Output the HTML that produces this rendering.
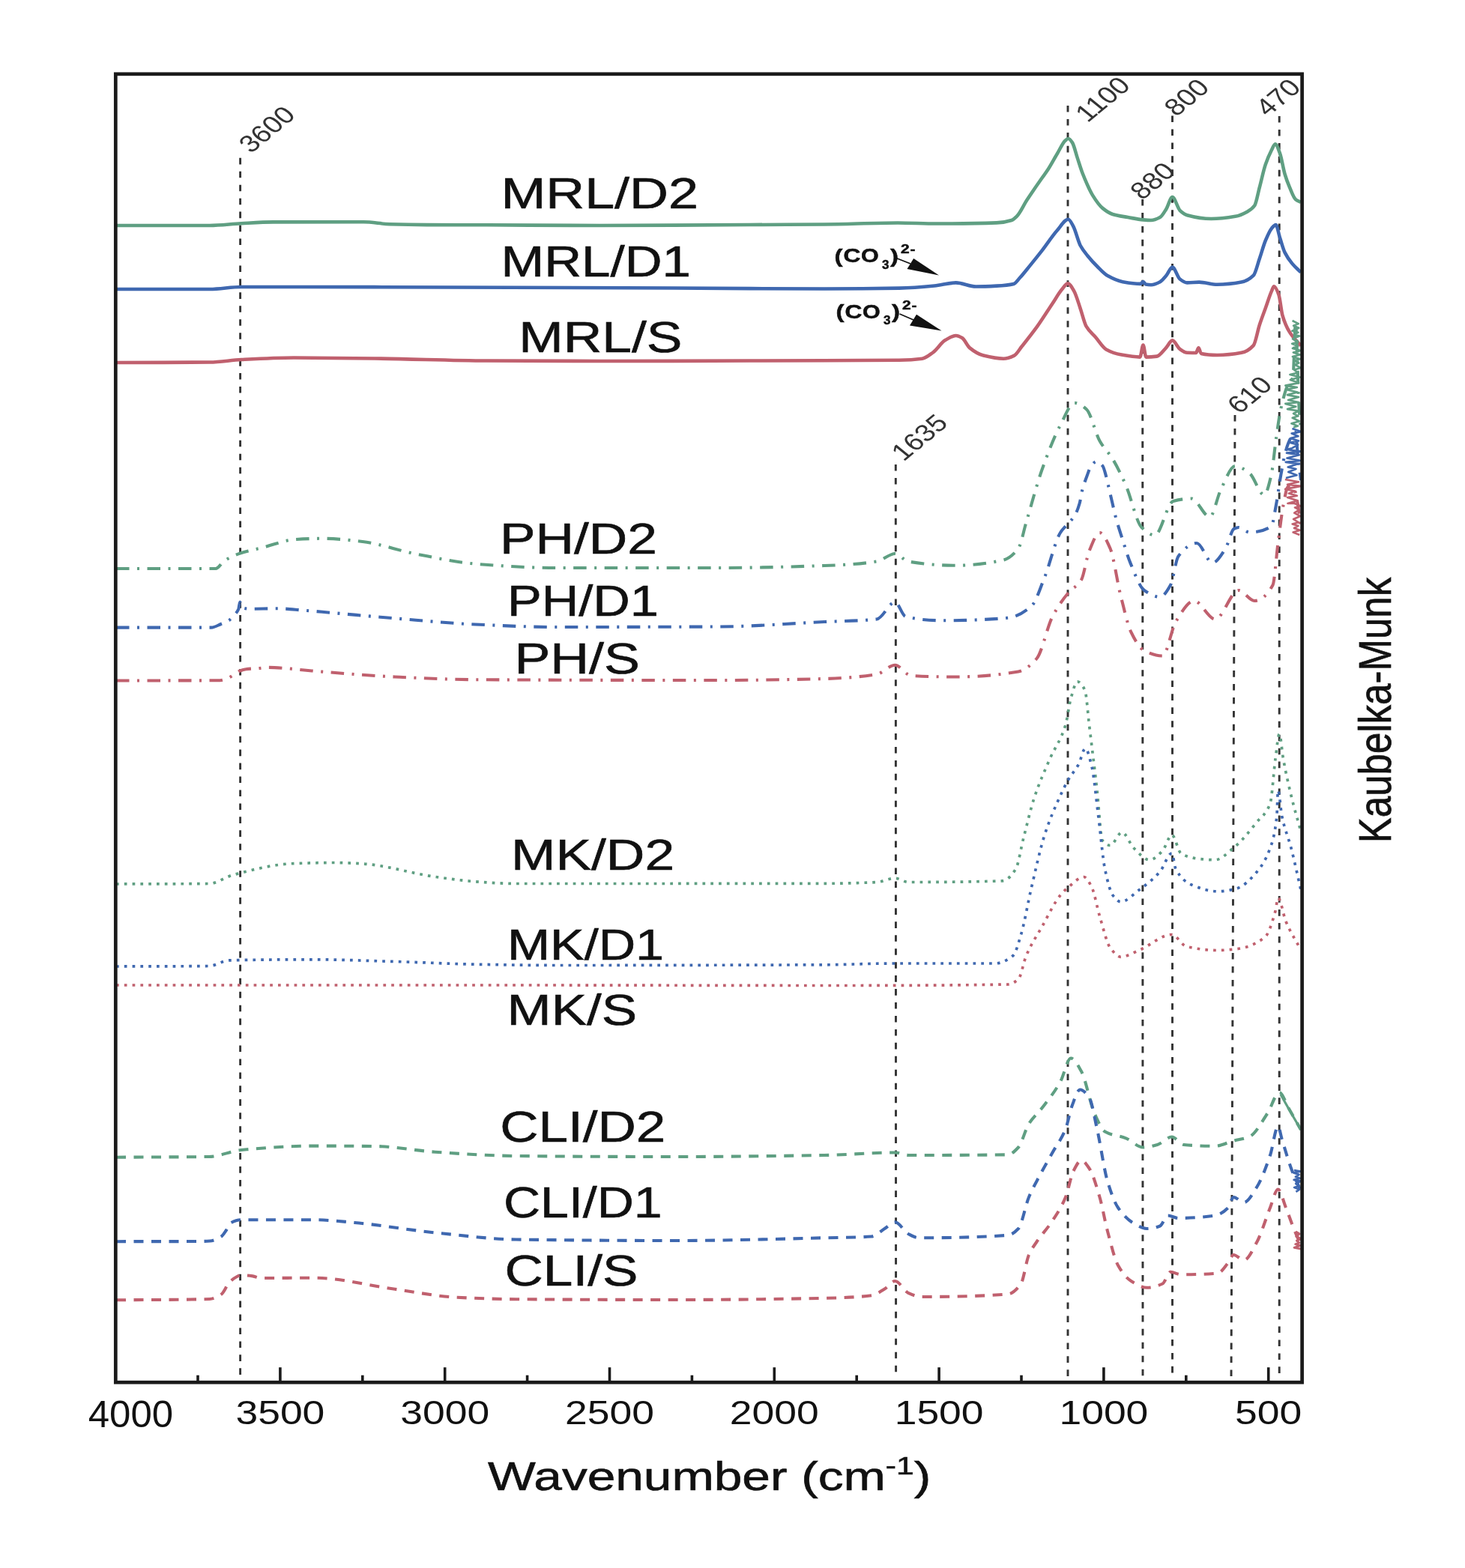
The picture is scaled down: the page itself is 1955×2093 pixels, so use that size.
<!DOCTYPE html><html><head><meta charset="utf-8"><title>Kubelka-Munk spectra</title>
<style>html,body{margin:0;padding:0;background:#fff;}svg{display:block;}text{font-family:"Liberation Sans",Arial,sans-serif;fill:#111;}</style></head><body>
<svg width="1955" height="2093" viewBox="0 0 1955 2093">
<rect x="0" y="0" width="1955" height="2093" fill="#fff"/>
<line x1="320.6" y1="210.8" x2="320.6" y2="1840" stroke="#333" stroke-width="2.9" stroke-dasharray="8.6 9.35"/>
<line x1="1195.3" y1="620" x2="1195.6" y2="1840" stroke="#333" stroke-width="2.9" stroke-dasharray="8.6 9.35"/>
<line x1="1425" y1="141" x2="1425" y2="1840" stroke="#333" stroke-width="2.9" stroke-dasharray="8.6 9.35"/>
<line x1="1524.7" y1="266" x2="1525" y2="1840" stroke="#333" stroke-width="2.9" stroke-dasharray="8.6 9.35"/>
<line x1="1564.5" y1="154.5" x2="1564.5" y2="1840" stroke="#333" stroke-width="2.9" stroke-dasharray="8.6 9.35"/>
<line x1="1648" y1="554" x2="1643" y2="1840" stroke="#333" stroke-width="2.9" stroke-dasharray="8.6 9.35"/>
<line x1="1707.2" y1="155" x2="1707.2" y2="1840" stroke="#333" stroke-width="2.9" stroke-dasharray="8.6 9.35"/>
<path d="M155.0,301.0 C196.7,301.0 238.3,301.0 280.0,301.0 C294.0,301.0 308.0,299.0 322.0,298.3 C336.3,297.5 350.7,296.4 365.0,296.4 C405.0,296.3 445.0,296.3 485.0,296.3 C496.7,296.3 508.3,298.8 520.0,299.2 C536.7,299.7 553.3,300.0 570.0,300.1 C596.7,300.2 623.3,300.2 650.0,300.3 C700.0,300.5 750.0,301.0 800.0,301.0 C866.7,301.0 933.3,300.3 1000.0,300.0 C1033.3,299.8 1066.7,299.8 1100.0,299.5 C1132.7,299.2 1165.3,297.5 1198.0,297.5 C1215.3,297.5 1232.7,298.5 1250.0,298.5 C1276.7,298.5 1303.3,298.2 1330.0,297.4 C1336.7,297.2 1343.3,296.1 1350.0,294.0 C1352.3,293.3 1354.7,291.0 1357.0,288.7 C1361.5,284.3 1365.9,274.0 1370.4,267.1 C1377.1,256.7 1383.9,247.1 1390.6,237.5 C1392.8,234.3 1395.1,231.5 1397.3,228.1 C1401.8,221.3 1406.3,212.7 1410.8,205.2 C1414.4,199.3 1417.9,190.8 1421.5,187.7 C1422.9,186.5 1424.2,185.0 1425.6,185.0 C1427.4,185.0 1429.2,187.7 1431.0,190.4 C1433.2,193.7 1435.5,203.9 1437.7,210.6 C1439.9,217.3 1442.2,224.9 1444.4,230.8 C1446.7,236.8 1448.9,242.0 1451.2,246.9 C1453.4,251.8 1455.7,256.8 1457.9,260.4 C1462.4,267.7 1466.9,274.2 1471.4,277.9 C1475.9,281.6 1480.3,284.6 1484.8,286.0 C1491.5,288.1 1498.3,288.8 1505.0,290.0 C1511.7,291.2 1518.5,292.9 1525.2,293.4 C1528.8,293.7 1532.4,294.0 1536.0,294.0 C1540.0,294.0 1544.1,292.2 1548.1,290.0 C1550.8,288.5 1553.5,283.5 1556.2,279.2 C1559.0,274.8 1561.7,263.0 1564.5,263.0 C1567.8,263.0 1571.2,277.6 1574.5,280.8 C1577.7,283.9 1581.0,286.3 1584.2,287.2 C1594.9,290.1 1605.7,292.0 1616.4,292.0 C1627.1,292.0 1637.9,290.6 1648.6,288.8 C1654.0,287.9 1659.3,285.4 1664.7,282.4 C1667.9,280.6 1671.1,278.9 1674.3,274.3 C1676.5,271.2 1678.6,258.4 1680.8,250.2 C1683.5,240.2 1686.1,227.4 1688.8,219.6 C1691.5,211.7 1694.2,205.6 1696.9,200.3 C1698.5,197.2 1700.1,192.2 1701.7,192.2 C1703.8,192.2 1706.0,199.3 1708.1,205.1 C1710.3,211.0 1712.4,225.3 1714.6,232.5 C1716.7,239.6 1718.9,245.2 1721.0,250.2 C1723.7,256.4 1726.3,264.1 1729.0,266.3 C1731.3,268.2 1733.7,268.8 1736.0,270.0" fill="none" stroke="#5f9f82" stroke-width="4.6" stroke-linejoin="round"/>
<path d="M155.0,386.0 C196.7,386.0 238.3,386.0 280.0,386.0 C294.0,386.0 308.0,383.0 322.0,383.0 C348.0,383.0 374.0,383.0 400.0,383.0 C466.7,383.0 533.3,383.3 600.0,383.5 C700.0,383.8 800.0,384.1 900.0,384.5 C966.7,384.8 1033.3,385.5 1100.0,385.5 C1133.3,385.5 1166.7,385.2 1200.0,384.6 C1215.7,384.3 1231.3,383.0 1247.0,381.5 C1256.6,380.6 1266.1,377.4 1275.7,377.4 C1284.6,377.4 1293.4,382.5 1302.3,382.5 C1311.5,382.5 1320.8,382.1 1330.0,381.6 C1337.6,381.2 1345.3,380.7 1352.9,378.9 C1355.6,378.2 1358.3,373.7 1361.0,370.8 C1365.5,365.9 1369.9,360.1 1374.4,354.6 C1379.8,348.0 1385.2,341.3 1390.6,334.4 C1397.3,325.7 1404.1,315.1 1410.8,307.5 C1415.7,301.9 1420.7,292.7 1425.6,292.7 C1427.8,292.7 1430.1,298.0 1432.3,302.1 C1435.4,307.8 1438.6,321.8 1441.7,327.7 C1444.9,333.6 1448.0,337.2 1451.2,341.2 C1455.7,346.8 1460.1,351.6 1464.6,356.0 C1469.1,360.5 1473.6,365.5 1478.1,368.1 C1484.8,371.9 1491.6,375.0 1498.3,376.2 C1506.2,377.6 1514.1,378.9 1522.0,378.9 C1523.2,378.9 1524.3,376.0 1525.5,376.0 C1526.7,376.0 1527.8,379.3 1529.0,379.5 C1531.3,380.0 1533.7,380.2 1536.0,380.2 C1540.0,380.2 1544.1,378.3 1548.1,376.2 C1550.8,374.8 1553.5,371.2 1556.2,368.1 C1559.0,364.9 1561.7,356.6 1564.5,356.6 C1567.8,356.6 1571.2,370.0 1574.5,372.5 C1577.7,375.0 1581.0,377.4 1584.2,377.4 C1589.6,377.4 1594.9,376.6 1600.3,376.6 C1608.3,376.6 1616.4,379.8 1624.4,379.8 C1635.1,379.8 1645.9,378.6 1656.6,376.6 C1662.0,375.6 1667.3,373.0 1672.7,367.7 C1675.4,365.0 1678.1,353.0 1680.8,345.2 C1683.5,337.5 1686.1,327.4 1688.8,321.0 C1691.5,314.5 1694.2,308.1 1696.9,304.9 C1698.8,302.7 1700.6,300.1 1702.5,300.1 C1704.4,300.1 1706.2,312.1 1708.1,317.8 C1710.3,324.4 1712.4,332.7 1714.6,337.1 C1717.8,343.6 1721.0,347.7 1724.2,351.6 C1728.1,356.4 1732.1,359.5 1736.0,363.5" fill="none" stroke="#3f68b0" stroke-width="4.6" stroke-linejoin="round"/>
<path d="M155.0,484.0 C196.7,483.8 238.3,483.9 280.0,483.5 C294.0,483.4 308.0,480.7 322.0,480.0 C345.3,478.8 368.7,477.5 392.0,477.5 C428.0,477.5 464.0,478.1 500.0,478.5 C550.0,479.1 600.0,481.2 650.0,481.5 C700.0,481.8 750.0,482.0 800.0,482.0 C866.7,482.0 933.3,481.7 1000.0,481.5 C1066.7,481.3 1133.3,481.3 1200.0,480.7 C1210.2,480.6 1220.5,480.0 1230.7,478.7 C1235.5,478.1 1240.2,474.0 1245.0,470.5 C1250.5,466.5 1255.9,457.3 1261.4,454.1 C1266.2,451.3 1270.9,448.0 1275.7,448.0 C1278.4,448.0 1281.2,449.5 1283.9,451.1 C1287.3,453.1 1290.7,461.6 1294.1,464.4 C1300.2,469.4 1306.4,473.1 1312.5,474.6 C1321.4,476.8 1330.2,478.7 1339.1,478.7 C1343.9,478.7 1348.7,476.9 1353.5,474.6 C1356.9,473.0 1360.3,466.5 1363.7,462.3 C1370.5,453.8 1377.4,445.2 1384.2,435.7 C1391.0,426.2 1397.8,415.2 1404.6,405.0 C1408.7,398.8 1412.8,391.5 1416.9,386.6 C1419.6,383.4 1422.4,378.4 1425.1,378.4 C1427.8,378.4 1430.6,383.9 1433.3,388.6 C1436.0,393.3 1438.8,403.3 1441.5,411.2 C1444.2,419.0 1446.9,431.0 1449.6,435.7 C1453.7,442.8 1457.8,445.3 1461.9,450.0 C1466.7,455.5 1471.4,463.8 1476.2,466.4 C1483.0,470.2 1489.9,472.3 1496.7,473.6 C1504.9,475.1 1513.1,476.6 1521.3,476.6 C1522.7,476.6 1524.1,460.5 1525.5,460.5 C1526.8,460.5 1528.1,476.6 1529.4,476.6 C1534.2,476.6 1539.0,476.2 1543.8,475.6 C1547.9,475.1 1551.9,468.6 1556.0,464.4 C1558.8,461.5 1561.7,454.4 1564.5,454.4 C1567.8,454.4 1571.2,463.6 1574.5,465.9 C1577.7,468.2 1581.0,470.7 1584.2,470.8 C1588.1,470.9 1592.1,471.0 1596.0,471.0 C1597.1,471.0 1598.3,464.3 1599.4,464.3 C1600.6,464.3 1601.8,471.7 1603.0,472.0 C1610.1,473.6 1617.3,474.0 1624.4,474.0 C1635.1,474.0 1645.9,472.8 1656.6,470.8 C1662.0,469.8 1667.3,467.0 1672.7,461.1 C1675.4,458.1 1678.1,442.0 1680.8,433.7 C1683.5,425.5 1686.1,418.7 1688.8,411.2 C1691.5,403.6 1694.2,394.7 1696.9,388.6 C1698.0,386.2 1699.0,382.2 1700.1,382.2 C1702.2,382.2 1704.4,387.6 1706.5,393.5 C1708.1,398.0 1709.8,415.1 1711.4,420.8 C1714.6,431.9 1717.8,438.2 1721.0,443.4 C1726.0,451.6 1731.0,455.5 1736.0,461.5" fill="none" stroke="#c0606e" stroke-width="4.6" stroke-linejoin="round"/>
<path d="M155.0,759.0 C199.3,759.0 243.5,759.0 287.8,759.0 C291.7,759.0 295.5,751.2 299.4,748.6 C303.3,746.0 307.1,743.9 311.0,742.2 C314.5,740.6 317.9,739.3 321.4,738.2 C325.6,736.8 329.9,735.8 334.1,734.7 C339.9,733.2 345.7,732.2 351.5,730.7 C357.3,729.2 363.0,726.9 368.8,725.4 C376.5,723.4 384.3,720.7 392.0,720.2 C404.7,719.3 417.3,718.8 430.0,718.8 C448.0,718.8 466.0,720.9 484.0,723.0 C507.3,725.7 530.7,734.7 554.0,739.2 C580.9,744.4 607.8,750.6 634.7,752.7 C670.5,755.5 706.2,758.0 742.0,758.0 C814.0,758.0 886.0,758.0 958.0,758.0 C1005.3,758.0 1052.7,756.7 1100.0,755.0 C1123.3,754.2 1146.7,753.0 1170.0,749.5 C1178.2,748.3 1186.3,739.0 1194.5,739.0 C1200.3,739.0 1206.2,748.5 1212.0,749.5 C1233.0,753.1 1254.0,754.8 1275.0,754.8 C1296.0,754.8 1317.0,752.4 1338.0,747.8 C1345.0,746.3 1352.0,741.2 1359.0,732.0 C1362.5,727.4 1366.0,708.7 1369.5,697.0 C1376.5,673.7 1383.5,646.7 1390.5,627.0 C1398.7,604.0 1406.8,582.9 1415.0,567.5 C1421.3,555.6 1427.7,537.8 1434.0,537.8 C1439.3,537.8 1444.7,541.8 1450.0,546.5 C1455.8,551.6 1461.7,578.2 1467.5,588.5 C1473.3,598.8 1479.2,603.4 1485.0,613.0 C1490.8,622.6 1496.7,634.7 1502.5,648.0 C1509.5,663.9 1516.5,697.3 1523.5,704.0 C1529.3,709.6 1535.2,714.5 1541.0,714.5 C1549.2,714.5 1557.3,671.2 1565.5,669.0 C1573.7,666.8 1581.8,665.5 1590.0,665.5 C1598.2,665.5 1606.3,690.0 1614.5,690.0 C1619.3,690.0 1624.2,663.7 1629.0,654.0 C1635.4,641.1 1641.9,622.0 1648.3,622.0 C1654.7,622.0 1661.2,626.9 1667.6,631.8 C1674.1,636.7 1680.5,660.7 1687.0,660.7 C1690.2,660.7 1693.4,647.0 1696.6,633.4 C1698.7,624.3 1700.9,599.6 1703.0,585.0 C1705.1,570.4 1707.3,554.5 1709.4,545.0 C1712.6,530.7 1715.8,519.2 1719.0,512.7 C1721.2,508.3 1723.3,509.7 1725.5,503.0 C1726.6,499.6 1727.7,432.2 1728.8,432.2 C1730.4,432.2 1732.0,519.7 1733.6,545.0 C1734.4,557.6 1735.2,565.0 1736.0,575.0" fill="none" stroke="#5f9f82" stroke-width="4.1" stroke-linejoin="round" stroke-dasharray="17.5 10.5 3 10.5"/>
<path d="M155.0,837.6 C197.3,837.6 239.7,837.6 282.0,837.6 C286.3,837.6 290.5,834.7 294.8,833.0 C298.3,831.6 301.7,830.6 305.2,828.4 C307.9,826.7 310.6,823.6 313.3,820.3 C315.0,818.3 316.6,817.1 318.3,813.0 C318.9,811.4 319.6,803.5 320.2,803.5 C321.0,803.5 321.7,810.7 322.5,811.0 C326.3,812.4 330.2,812.8 334.0,812.8 C345.6,812.8 357.2,812.2 368.8,812.2 C380.4,812.2 391.9,813.6 403.5,814.5 C412.3,815.2 421.2,816.0 430.0,816.8 C462.3,819.6 494.7,822.8 527.0,825.4 C562.9,828.3 598.8,831.9 634.7,833.5 C670.5,835.1 706.2,837.0 742.0,837.0 C814.0,837.0 886.0,836.8 958.0,836.5 C1005.3,836.3 1052.7,832.3 1100.0,830.0 C1123.3,828.9 1146.7,829.1 1170.0,826.5 C1178.2,825.6 1186.3,803.8 1194.5,803.8 C1199.2,803.8 1203.8,821.9 1208.5,823.0 C1224.8,826.9 1241.2,828.3 1257.5,828.3 C1286.7,828.3 1315.8,827.3 1345.0,824.8 C1355.5,823.9 1366.0,818.1 1376.5,809.0 C1382.3,803.9 1388.2,784.9 1394.0,770.5 C1401.0,753.2 1408.0,722.2 1415.0,711.0 C1417.6,706.8 1420.3,704.6 1422.9,701.4 C1426.9,696.6 1430.8,694.0 1434.8,687.2 C1436.8,683.8 1438.7,678.7 1440.7,671.8 C1441.9,667.6 1443.1,658.6 1444.3,654.0 C1446.3,646.5 1448.2,641.5 1450.2,636.2 C1452.2,630.9 1454.1,624.5 1456.1,622.0 C1458.5,619.0 1460.8,616.1 1463.2,616.1 C1466.0,616.1 1468.7,618.6 1471.5,622.0 C1473.1,623.9 1474.6,630.6 1476.2,636.2 C1477.4,640.5 1478.6,646.5 1479.8,651.6 C1481.4,658.3 1482.9,665.2 1484.5,671.8 C1486.1,678.6 1487.7,686.0 1489.3,691.9 C1492.1,702.3 1494.9,710.4 1497.7,719.2 C1501.3,730.5 1504.9,742.9 1508.5,751.6 C1514.7,766.5 1520.8,783.7 1527.0,788.0 C1534.0,792.9 1541.0,796.8 1548.0,796.8 C1552.7,796.8 1557.3,789.3 1562.0,781.0 C1565.5,774.8 1569.0,747.1 1572.5,742.5 C1580.7,731.8 1588.8,725.0 1597.0,725.0 C1604.0,725.0 1611.0,751.3 1618.0,751.3 C1623.8,751.3 1629.7,741.0 1635.5,732.0 C1639.2,726.3 1643.0,707.6 1646.7,705.8 C1648.8,704.8 1650.9,704.0 1653.0,704.0 C1657.9,704.0 1662.7,710.6 1667.6,710.6 C1677.3,710.6 1686.9,708.8 1696.6,702.6 C1698.7,701.2 1700.9,684.8 1703.0,673.6 C1705.1,662.4 1707.3,645.1 1709.4,633.4 C1711.6,621.3 1713.8,608.6 1716.0,601.2 C1718.1,594.1 1720.2,588.5 1722.3,585.0 C1724.5,581.4 1726.6,577.0 1728.8,577.0 C1729.9,577.0 1730.9,599.5 1732.0,609.0 C1733.3,620.9 1734.7,630.3 1736.0,641.0" fill="none" stroke="#3f68b0" stroke-width="4.1" stroke-linejoin="round" stroke-dasharray="17.5 10.5 3 10.5"/>
<path d="M155.0,908.5 C201.2,908.4 247.4,908.5 293.6,908.2 C297.5,908.2 301.3,906.3 305.2,904.7 C308.3,903.4 311.3,900.9 314.4,899.0 C316.3,897.8 318.3,896.3 320.2,895.5 C322.9,894.4 325.6,893.5 328.3,893.2 C334.1,892.5 339.9,892.5 345.7,892.0 C349.5,891.7 353.4,890.9 357.2,890.9 C364.9,890.9 372.7,891.5 380.4,892.0 C388.1,892.5 395.8,893.6 403.5,894.3 C412.3,895.1 421.2,895.9 430.0,896.6 C462.3,899.2 494.7,902.0 527.0,903.5 C562.9,905.2 598.8,907.0 634.7,907.2 C742.5,907.8 850.2,908.0 958.0,908.0 C1005.3,908.0 1052.7,907.2 1100.0,906.0 C1123.3,905.4 1146.7,903.8 1170.0,900.0 C1178.2,898.7 1186.3,887.8 1194.5,887.8 C1201.5,887.8 1208.5,901.4 1215.5,901.8 C1235.3,903.1 1255.2,903.5 1275.0,903.5 C1303.0,903.5 1331.0,901.4 1359.0,896.5 C1367.2,895.1 1375.3,888.3 1383.5,879.0 C1390.5,871.0 1397.5,836.4 1404.5,823.0 C1411.5,809.6 1418.5,799.8 1425.5,791.5 C1431.3,784.5 1437.2,783.6 1443.0,774.0 C1446.5,768.2 1450.0,743.9 1453.5,735.5 C1458.2,724.3 1462.8,711.0 1467.5,711.0 C1472.2,711.0 1476.8,721.5 1481.5,732.0 C1486.2,742.5 1490.8,776.6 1495.5,795.0 C1500.2,813.4 1504.8,834.5 1509.5,844.0 C1515.3,855.9 1521.2,865.6 1527.0,868.5 C1535.2,872.5 1543.3,875.5 1551.5,875.5 C1557.3,875.5 1563.2,839.5 1569.0,830.0 C1577.2,816.7 1585.3,802.0 1593.5,802.0 C1602.8,802.0 1612.2,826.5 1621.5,826.5 C1632.0,826.5 1642.5,788.0 1653.0,788.0 C1660.0,788.0 1667.0,802.0 1674.0,802.0 C1682.2,802.0 1690.3,795.9 1698.5,781.0 C1700.8,776.8 1703.2,742.6 1705.5,725.0 C1707.9,706.9 1710.3,685.5 1712.7,673.6 C1714.8,663.2 1716.9,649.5 1719.0,649.5 C1721.2,649.5 1723.3,649.5 1725.5,649.5 C1727.7,649.5 1729.8,662.2 1732.0,673.6 C1733.3,680.6 1734.7,695.2 1736.0,706.0" fill="none" stroke="#c0606e" stroke-width="4.1" stroke-linejoin="round" stroke-dasharray="17.5 10.5 3 10.5"/>
<path d="M155.0,1180.0 C196.3,1179.8 237.7,1179.9 279.0,1179.5 C289.8,1179.4 300.7,1170.5 311.5,1167.7 C338.3,1160.7 365.2,1153.5 392.0,1152.6 C410.0,1152.0 428.0,1151.5 446.0,1151.5 C458.7,1151.5 471.3,1152.2 484.0,1153.0 C516.3,1154.9 548.5,1165.9 580.8,1170.4 C598.8,1172.9 616.7,1175.5 634.7,1176.8 C652.6,1178.1 670.6,1179.5 688.5,1179.5 C825.7,1179.5 962.8,1179.5 1100.0,1179.3 C1123.3,1179.3 1146.7,1178.7 1170.0,1177.5 C1178.2,1177.1 1186.3,1172.3 1194.5,1172.3 C1200.3,1172.3 1206.2,1177.5 1212.0,1177.5 C1254.0,1177.5 1296.0,1177.3 1338.0,1175.8 C1343.8,1175.6 1349.7,1169.1 1355.5,1160.0 C1359.0,1154.6 1362.5,1131.6 1366.0,1118.0 C1370.7,1099.9 1375.3,1079.7 1380.0,1065.5 C1387.0,1044.2 1394.0,1029.2 1401.0,1013.0 C1408.0,996.8 1415.0,990.2 1422.0,967.5 C1424.3,959.9 1426.7,940.5 1429.0,932.5 C1431.9,922.4 1434.9,909.8 1437.8,909.8 C1441.2,909.8 1444.6,914.3 1448.0,922.0 C1449.8,926.1 1451.7,952.3 1453.5,967.5 C1457.0,996.5 1460.5,1023.8 1464.0,1055.0 C1466.3,1075.8 1468.7,1118.4 1471.0,1121.5 C1474.5,1126.1 1478.0,1128.5 1481.5,1128.5 C1486.8,1128.5 1492.0,1111.0 1497.3,1111.0 C1502.5,1111.0 1507.8,1126.9 1513.0,1132.0 C1520.0,1138.8 1527.0,1147.8 1534.0,1147.8 C1539.8,1147.8 1545.7,1141.5 1551.5,1135.5 C1555.6,1131.3 1559.7,1114.5 1563.8,1114.5 C1567.9,1114.5 1571.9,1136.5 1576.0,1139.0 C1583.0,1143.3 1590.0,1145.1 1597.0,1146.0 C1605.2,1147.0 1613.3,1147.8 1621.5,1147.8 C1629.7,1147.8 1637.8,1138.6 1646.0,1132.0 C1656.5,1123.5 1667.0,1110.2 1677.5,1097.0 C1683.3,1089.7 1689.2,1088.1 1695.0,1072.5 C1697.3,1066.3 1699.7,1029.7 1702.0,1013.0 C1703.8,1000.3 1705.5,979.8 1707.3,979.8 C1709.0,979.8 1710.8,1003.5 1712.5,1013.0 C1716.0,1032.2 1719.5,1047.5 1723.0,1062.0 C1727.3,1079.9 1731.7,1094.0 1736.0,1110.0" fill="none" stroke="#5f9f82" stroke-width="3.7" stroke-linejoin="round" stroke-dasharray="3.7 7.1"/>
<path d="M155.0,1290.0 C196.3,1289.8 237.7,1289.9 279.0,1289.5 C288.0,1289.4 297.0,1282.1 306.0,1281.9 C343.7,1281.0 381.3,1280.8 419.0,1280.8 C455.0,1280.8 491.0,1282.5 527.0,1283.5 C562.9,1284.5 598.8,1286.6 634.7,1287.2 C670.5,1287.8 706.2,1288.5 742.0,1288.5 C861.3,1288.5 980.7,1288.3 1100.0,1287.8 C1130.3,1287.7 1160.7,1286.0 1191.0,1286.0 C1236.5,1286.0 1282.0,1286.0 1327.5,1286.0 C1335.7,1286.0 1343.8,1282.2 1352.0,1275.5 C1355.5,1272.6 1359.0,1259.1 1362.5,1247.5 C1367.2,1232.1 1371.8,1204.3 1376.5,1184.5 C1382.3,1159.7 1388.2,1132.6 1394.0,1114.5 C1401.0,1092.8 1408.0,1077.4 1415.0,1062.0 C1418.5,1054.3 1422.0,1047.0 1425.5,1041.0 C1430.2,1032.9 1434.8,1028.7 1439.5,1020.0 C1442.4,1014.5 1445.4,999.0 1448.3,999.0 C1451.2,999.0 1454.1,1011.6 1457.0,1023.5 C1459.9,1035.5 1462.9,1067.1 1465.8,1090.0 C1468.7,1112.6 1471.6,1146.2 1474.5,1160.0 C1478.0,1176.7 1481.5,1190.3 1485.0,1195.0 C1488.5,1199.7 1492.0,1203.8 1495.5,1203.8 C1503.7,1203.8 1511.8,1194.0 1520.0,1188.0 C1529.3,1181.1 1538.7,1174.2 1548.0,1163.5 C1553.3,1157.5 1558.5,1139.0 1563.8,1139.0 C1565.5,1139.0 1567.3,1156.8 1569.0,1160.0 C1576.0,1172.8 1583.0,1178.0 1590.0,1181.0 C1601.7,1185.9 1613.3,1189.8 1625.0,1189.8 C1633.2,1189.8 1641.3,1188.3 1649.5,1186.3 C1658.8,1184.1 1668.2,1174.3 1677.5,1163.5 C1683.3,1156.8 1689.2,1148.0 1695.0,1132.0 C1697.9,1123.9 1700.9,1116.4 1703.8,1090.0 C1704.4,1084.9 1704.9,1055.0 1705.5,1055.0 C1707.3,1055.0 1709.0,1081.7 1710.8,1090.0 C1714.9,1109.2 1718.9,1116.5 1723.0,1132.0 C1727.3,1148.6 1731.7,1169.3 1736.0,1188.0" fill="none" stroke="#3f68b0" stroke-width="3.7" stroke-linejoin="round" stroke-dasharray="3.7 7.1"/>
<path d="M155.0,1315.0 C336.7,1315.0 518.3,1315.0 700.0,1315.0 C833.3,1315.0 966.7,1315.5 1100.0,1315.5 C1181.7,1315.5 1263.3,1315.4 1345.0,1314.0 C1349.7,1313.9 1354.3,1311.1 1359.0,1307.0 C1362.5,1303.9 1366.0,1283.7 1369.5,1275.5 C1376.5,1259.1 1383.5,1249.4 1390.5,1237.0 C1398.7,1222.5 1406.8,1205.0 1415.0,1195.0 C1418.5,1190.7 1422.0,1187.4 1425.5,1184.5 C1432.5,1178.8 1439.5,1170.5 1446.5,1170.5 C1450.0,1170.5 1453.5,1177.7 1457.0,1184.5 C1460.5,1191.3 1464.0,1211.4 1467.5,1223.0 C1472.2,1238.5 1476.8,1258.7 1481.5,1265.0 C1486.2,1271.3 1490.8,1277.3 1495.5,1277.3 C1503.7,1277.3 1511.8,1271.8 1520.0,1268.5 C1534.6,1262.6 1549.2,1247.5 1563.8,1247.5 C1570.2,1247.5 1576.6,1261.8 1583.0,1263.3 C1597.0,1266.6 1611.0,1268.5 1625.0,1268.5 C1633.2,1268.5 1641.3,1267.7 1649.5,1266.8 C1662.3,1265.4 1675.2,1261.2 1688.0,1251.0 C1692.7,1247.3 1697.3,1232.7 1702.0,1216.0 C1703.2,1211.8 1704.3,1198.5 1705.5,1198.5 C1709.0,1198.5 1712.5,1221.7 1716.0,1230.0 C1722.7,1245.9 1729.3,1255.3 1736.0,1268.0" fill="none" stroke="#c0606e" stroke-width="3.7" stroke-linejoin="round" stroke-dasharray="3.7 7.1"/>
<path d="M155.0,1544.7 C196.3,1544.5 237.7,1544.5 279.0,1544.0 C293.3,1543.8 307.7,1536.4 322.0,1535.0 C354.3,1531.9 386.7,1529.6 419.0,1529.6 C446.0,1529.6 473.0,1529.7 500.0,1530.0 C526.9,1530.3 553.9,1535.9 580.8,1537.7 C616.7,1540.1 652.6,1542.7 688.5,1543.0 C759.0,1543.7 829.5,1544.0 900.0,1544.0 C966.7,1544.0 1033.3,1543.1 1100.0,1542.0 C1131.5,1541.5 1163.0,1538.5 1194.5,1538.5 C1200.3,1538.5 1206.2,1542.0 1212.0,1542.0 C1256.3,1542.0 1300.7,1541.9 1345.0,1541.3 C1349.7,1541.2 1354.3,1536.5 1359.0,1531.5 C1363.7,1526.5 1368.3,1507.4 1373.0,1500.0 C1378.8,1490.8 1384.7,1486.6 1390.5,1479.0 C1398.7,1468.4 1406.8,1458.6 1415.0,1444.0 C1419.7,1435.7 1424.3,1412.5 1429.0,1412.5 C1433.7,1412.5 1438.3,1421.7 1443.0,1430.0 C1448.8,1440.3 1454.7,1472.9 1460.5,1486.0 C1465.2,1496.4 1469.8,1507.8 1474.5,1510.5 C1483.8,1515.9 1493.2,1515.6 1502.5,1519.3 C1510.1,1522.3 1517.7,1531.5 1525.3,1531.5 C1531.7,1531.5 1538.1,1529.7 1544.5,1528.0 C1550.9,1526.2 1557.4,1517.5 1563.8,1517.5 C1569.0,1517.5 1574.3,1527.5 1579.5,1528.0 C1593.5,1529.3 1607.5,1529.8 1621.5,1529.8 C1629.7,1529.8 1637.8,1525.0 1646.0,1522.8 C1653.0,1520.9 1660.0,1520.4 1667.0,1517.5 C1675.2,1514.1 1683.3,1498.3 1691.5,1486.0 C1696.8,1478.1 1702.0,1458.0 1707.3,1458.0 C1711.4,1458.0 1715.4,1471.9 1719.5,1479.0 C1725.0,1488.6 1730.5,1498.3 1736.0,1508.0" fill="none" stroke="#5f9f82" stroke-width="4.1" stroke-linejoin="round" stroke-dasharray="13 10.5"/>
<path d="M155.0,1657.2 C191.0,1657.1 227.0,1657.2 263.0,1657.0 C268.7,1657.0 274.3,1656.8 280.0,1656.5 C285.1,1656.2 290.3,1653.7 295.4,1650.4 C297.6,1649.0 299.8,1645.1 302.0,1642.0 C304.2,1639.0 306.3,1633.1 308.5,1632.0 C312.9,1629.7 317.2,1628.2 321.6,1628.2 C354.1,1628.2 386.5,1628.2 419.0,1628.2 C437.0,1628.2 455.0,1630.4 473.0,1632.0 C508.9,1635.1 544.9,1641.8 580.8,1645.4 C616.7,1649.0 652.6,1654.0 688.5,1654.5 C759.0,1655.5 829.5,1656.0 900.0,1656.0 C966.7,1656.0 1033.3,1653.9 1100.0,1652.3 C1121.0,1651.8 1142.0,1651.9 1163.0,1650.5 C1168.8,1650.1 1174.7,1643.6 1180.5,1640.0 C1185.2,1637.1 1189.8,1631.3 1194.5,1631.3 C1200.3,1631.3 1206.2,1643.9 1212.0,1647.0 C1216.7,1649.4 1221.3,1652.3 1226.0,1652.3 C1265.7,1652.3 1305.3,1651.7 1345.0,1648.8 C1349.7,1648.5 1354.3,1644.9 1359.0,1640.0 C1363.7,1635.1 1368.3,1609.2 1373.0,1598.0 C1377.7,1586.8 1382.3,1578.9 1387.0,1570.0 C1392.8,1558.9 1398.7,1549.0 1404.5,1538.5 C1410.3,1528.0 1416.2,1521.5 1422.0,1507.0 C1424.9,1499.7 1427.9,1483.1 1430.8,1475.5 C1434.3,1466.4 1437.8,1454.5 1441.3,1454.5 C1445.4,1454.5 1449.4,1459.1 1453.5,1465.0 C1457.0,1470.0 1460.5,1491.5 1464.0,1507.0 C1468.7,1527.6 1473.3,1561.4 1478.0,1577.0 C1482.7,1592.6 1487.3,1605.1 1492.0,1612.0 C1499.0,1622.3 1506.0,1629.1 1513.0,1633.0 C1518.8,1636.3 1524.7,1640.0 1530.5,1640.0 C1536.3,1640.0 1542.2,1638.7 1548.0,1636.5 C1551.5,1635.2 1555.0,1622.5 1558.5,1622.5 C1563.2,1622.5 1567.8,1626.0 1572.5,1626.0 C1588.8,1626.0 1605.2,1624.9 1621.5,1622.5 C1627.3,1621.6 1633.2,1617.8 1639.0,1612.0 C1641.3,1609.7 1643.7,1598.0 1646.0,1598.0 C1650.7,1598.0 1655.3,1605.0 1660.0,1605.0 C1665.8,1605.0 1671.7,1593.3 1677.5,1584.0 C1683.3,1574.7 1689.2,1559.2 1695.0,1542.0 C1698.5,1531.7 1702.0,1503.5 1705.5,1503.5 C1707.3,1503.5 1709.0,1515.3 1710.8,1521.0 C1714.9,1534.2 1718.9,1548.5 1723.0,1559.5 C1727.3,1571.2 1731.7,1579.8 1736.0,1590.0" fill="none" stroke="#3f68b0" stroke-width="4.1" stroke-linejoin="round" stroke-dasharray="13 10.5"/>
<path d="M155.0,1735.3 C196.6,1734.9 238.1,1735.1 279.7,1734.0 C284.9,1733.9 290.2,1731.1 295.4,1727.6 C298.9,1725.3 302.4,1715.5 305.9,1712.0 C309.4,1708.5 312.8,1705.7 316.3,1704.0 C318.1,1703.1 319.8,1702.0 321.6,1702.0 C326.8,1702.0 332.1,1702.7 337.3,1703.4 C340.8,1703.9 344.2,1706.0 347.7,1706.0 C371.5,1706.0 395.2,1705.7 419.0,1705.7 C455.0,1705.7 491.0,1715.9 527.0,1720.8 C553.9,1724.5 580.8,1730.2 607.7,1731.6 C634.6,1733.0 661.6,1734.0 688.5,1734.2 C759.0,1734.7 829.5,1735.0 900.0,1735.0 C966.7,1735.0 1033.3,1734.2 1100.0,1732.8 C1121.0,1732.4 1142.0,1731.8 1163.0,1729.3 C1168.8,1728.6 1174.7,1724.0 1180.5,1720.5 C1185.2,1717.7 1189.8,1710.0 1194.5,1710.0 C1200.3,1710.0 1206.2,1723.2 1212.0,1725.8 C1217.8,1728.4 1223.7,1731.0 1229.5,1731.0 C1268.0,1731.0 1306.5,1730.4 1345.0,1727.5 C1350.8,1727.1 1356.7,1721.6 1362.5,1713.5 C1366.0,1708.6 1369.5,1683.0 1373.0,1675.0 C1376.5,1667.0 1380.0,1662.8 1383.5,1657.5 C1390.5,1647.0 1397.5,1640.3 1404.5,1629.5 C1410.3,1620.5 1416.2,1612.0 1422.0,1598.0 C1425.5,1589.6 1429.0,1569.7 1432.5,1563.0 C1436.0,1556.3 1439.5,1549.0 1443.0,1549.0 C1446.5,1549.0 1450.0,1554.5 1453.5,1559.5 C1458.2,1566.2 1462.8,1582.1 1467.5,1598.0 C1471.0,1609.9 1474.5,1630.4 1478.0,1643.5 C1482.7,1661.0 1487.3,1680.7 1492.0,1689.0 C1497.8,1699.4 1503.7,1706.3 1509.5,1710.0 C1516.5,1714.4 1523.5,1718.8 1530.5,1718.8 C1537.5,1718.8 1544.5,1716.8 1551.5,1713.5 C1555.0,1711.9 1558.5,1697.8 1562.0,1697.8 C1566.7,1697.8 1571.3,1701.3 1576.0,1701.3 C1592.3,1701.3 1608.7,1700.9 1625.0,1699.5 C1629.7,1699.1 1634.3,1691.2 1639.0,1685.5 C1641.3,1682.6 1643.7,1675.0 1646.0,1675.0 C1650.7,1675.0 1655.3,1682.0 1660.0,1682.0 C1665.8,1682.0 1671.7,1668.1 1677.5,1657.5 C1683.3,1646.9 1689.2,1626.3 1695.0,1612.0 C1698.5,1603.4 1702.0,1587.5 1705.5,1587.5 C1709.0,1587.5 1712.5,1603.3 1716.0,1612.0 C1719.5,1620.7 1723.0,1631.3 1726.5,1640.0 C1729.7,1647.8 1732.8,1654.7 1736.0,1662.0" fill="none" stroke="#c0606e" stroke-width="4.1" stroke-linejoin="round" stroke-dasharray="13 10.5"/>
<path d="M1724.6,428.0 L1732.8,432.1 L1726.1,434.7 L1733.3,437.7 L1724.4,441.7 L1732.5,443.7 L1727.2,446.7 L1734.1,448.6 L1725.0,452.4 L1732.2,456.7 L1724.1,458.7 L1732.1,462.0 L1724.9,464.9 L1735.9,467.9 L1725.8,470.4 L1735.0,473.6 L1724.9,476.1 L1734.8,479.2 L1727.5,481.2 L1733.3,484.5 L1728.2,486.9 L1735.5,491.0 L1727.0,493.8 L1732.1,497.6 L1721.4,500.0 L1734.7,503.6 L1721.8,507.1 L1733.1,511.1 L1715.3,514.6 L1730.9,517.1 L1716.3,520.1 L1731.6,523.4 L1717.9,527.1 L1733.1,530.1 L1719.0,534.0 L1733.2,537.0 L1715.3,538.9 L1729.4,542.7 L1718.0,546.1 L1733.1,548.5 L1726.0,552.0 L1732.5,555.3 L1724.7,557.8 L1734.0,562.2 L1723.4,565.3 L1732.0,568.6 L1726.1,570.5" fill="none" stroke="#5f9f82" stroke-width="2.6" stroke-linejoin="round"/>
<path d="M1724.4,572.0 L1736.6,576.3 L1723.6,578.5 L1732.5,582.3 L1722.0,585.0 L1733.1,588.5 L1720.9,590.8 L1732.2,593.7 L1724.3,598.2 L1716.7,600.0 L1736.7,602.6 L1716.9,604.6 L1733.8,607.3 L1717.4,611.5 L1735.0,614.9 L1715.7,616.9 L1732.7,619.1 L1718.7,623.6 L1729.5,626.0 L1719.2,630.0 L1730.6,634.2 L1716.0,638.1" fill="none" stroke="#3f68b0" stroke-width="2.6" stroke-linejoin="round"/>
<path d="M1714.9,640.0 L1733.0,643.3 L1718.0,646.8 L1735.9,648.9 L1715.1,652.9 L1728.0,655.5 L1719.7,658.6 L1730.9,661.7 L1718.1,664.0 L1731.8,668.2 L1718.4,672.0 L1727.4,672.0 L1735.6,675.4 L1727.9,677.4 L1733.7,680.6 L1727.2,684.7 L1735.2,689.0 L1726.0,693.0 L1733.0,697.3 L1724.6,699.5 L1732.6,701.9 L1726.9,705.0 L1734.7,707.7 L1725.6,710.6 L1734.3,714.0" fill="none" stroke="#c0606e" stroke-width="2.6" stroke-linejoin="round"/>
<path d="M1709,1461 L1722,1484 L1736,1508" fill="none" stroke="#5f9f82" stroke-width="3.2" stroke-linejoin="round"/>
<path d="M1726.9,1562.0 L1735.5,1563.7 L1726.3,1565.5 L1733.5,1567.8 L1728.9,1570.9 L1734.9,1572.9 L1726.7,1574.9 L1736.2,1576.6 L1729.2,1580.0 L1733.9,1583.1 L1727.2,1585.0 L1734.2,1587.7 L1729.4,1590.9" fill="none" stroke="#3f68b0" stroke-width="2.8" stroke-linejoin="round"/>
<path d="M1729.2,1644.0 L1734.2,1647.0 L1729.6,1650.4 L1736.9,1653.7 L1730.3,1656.1 L1733.8,1658.9 L1728.6,1660.7 L1735.1,1662.7 L1727.0,1665.3 L1736.0,1667.2" fill="none" stroke="#c0606e" stroke-width="2.8" stroke-linejoin="round"/>
<rect x="154.3" y="98.8" width="1583.3" height="1746.4" fill="none" stroke="#1a1a1a" stroke-width="4.7"/>
<line x1="1692.7" y1="1845.2" x2="1692.7" y2="1825.2" stroke="#1a1a1a" stroke-width="3.6"/>
<line x1="1582.8" y1="1845.2" x2="1582.8" y2="1835.7" stroke="#1a1a1a" stroke-width="3.6"/>
<line x1="1472.9" y1="1845.2" x2="1472.9" y2="1825.2" stroke="#1a1a1a" stroke-width="3.6"/>
<line x1="1363.0" y1="1845.2" x2="1363.0" y2="1835.7" stroke="#1a1a1a" stroke-width="3.6"/>
<line x1="1253.1" y1="1845.2" x2="1253.1" y2="1825.2" stroke="#1a1a1a" stroke-width="3.6"/>
<line x1="1143.2" y1="1845.2" x2="1143.2" y2="1835.7" stroke="#1a1a1a" stroke-width="3.6"/>
<line x1="1033.3" y1="1845.2" x2="1033.3" y2="1825.2" stroke="#1a1a1a" stroke-width="3.6"/>
<line x1="923.4" y1="1845.2" x2="923.4" y2="1835.7" stroke="#1a1a1a" stroke-width="3.6"/>
<line x1="813.5" y1="1845.2" x2="813.5" y2="1825.2" stroke="#1a1a1a" stroke-width="3.6"/>
<line x1="703.6" y1="1845.2" x2="703.6" y2="1835.7" stroke="#1a1a1a" stroke-width="3.6"/>
<line x1="593.7" y1="1845.2" x2="593.7" y2="1825.2" stroke="#1a1a1a" stroke-width="3.6"/>
<line x1="483.8" y1="1845.2" x2="483.8" y2="1835.7" stroke="#1a1a1a" stroke-width="3.6"/>
<line x1="373.9" y1="1845.2" x2="373.9" y2="1825.2" stroke="#1a1a1a" stroke-width="3.6"/>
<line x1="264.0" y1="1845.2" x2="264.0" y2="1835.7" stroke="#1a1a1a" stroke-width="3.6"/>
<text transform="translate(1692.7,1900.5) scale(1.215,1)" text-anchor="middle" font-size="44">500</text>
<text transform="translate(1472.9,1900.5) scale(1.215,1)" text-anchor="middle" font-size="44">1000</text>
<text transform="translate(1253.1,1900.5) scale(1.215,1)" text-anchor="middle" font-size="44">1500</text>
<text transform="translate(1033.3,1900.5) scale(1.215,1)" text-anchor="middle" font-size="44">2000</text>
<text transform="translate(813.5,1900.5) scale(1.215,1)" text-anchor="middle" font-size="44">2500</text>
<text transform="translate(593.7,1900.5) scale(1.215,1)" text-anchor="middle" font-size="44">3000</text>
<text transform="translate(373.9,1900.5) scale(1.215,1)" text-anchor="middle" font-size="44">3500</text>
<text transform="translate(174.4,1905.2) scale(1.03,1)" text-anchor="middle" font-size="49.5">4000</text>
<text transform="translate(651,1989.3) scale(1.252,1)" font-size="54" stroke="#111" stroke-width="0.6">Wavenumber (cm<tspan font-size="34" dy="-21">-1</tspan><tspan dy="21">)</tspan></text>
<text transform="translate(1856,948) scale(1.215,1) rotate(-90)" text-anchor="middle" font-size="51" stroke="#111" stroke-width="0.6">Kaubelka-Munk</text>
<text transform="translate(668.4,277.5) scale(1.2606,1)" font-size="57" stroke="#111" stroke-width="0.6">MRL/D2</text>
<text transform="translate(668.6,369.1) scale(1.2125,1)" font-size="57" stroke="#111" stroke-width="0.6">MRL/D1</text>
<text transform="translate(692.2,470.3) scale(1.2529,1)" font-size="57" stroke="#111" stroke-width="0.6">MRL/S</text>
<text transform="translate(667.0,739.4) scale(1.2505,1)" font-size="57" stroke="#111" stroke-width="0.6">PH/D2</text>
<text transform="translate(676.9,822.3) scale(1.2044,1)" font-size="57" stroke="#111" stroke-width="0.6">PH/D1</text>
<text transform="translate(686.4,898.6) scale(1.2579,1)" font-size="57" stroke="#111" stroke-width="0.6">PH/S</text>
<text transform="translate(682.0,1160.7) scale(1.2521,1)" font-size="57" stroke="#111" stroke-width="0.6">MK/D2</text>
<text transform="translate(676.9,1280.9) scale(1.2018,1)" font-size="57" stroke="#111" stroke-width="0.6">MK/D1</text>
<text transform="translate(676.6,1367.6) scale(1.2454,1)" font-size="57" stroke="#111" stroke-width="0.6">MK/S</text>
<text transform="translate(667.3,1523.5) scale(1.2465,1)" font-size="57" stroke="#111" stroke-width="0.6">CLI/D2</text>
<text transform="translate(671.9,1625.3) scale(1.1941,1)" font-size="57" stroke="#111" stroke-width="0.6">CLI/D1</text>
<text transform="translate(673.5,1715.7) scale(1.2479,1)" font-size="57" stroke="#111" stroke-width="0.6">CLI/S</text>
<text transform="translate(356.2,172.7) scale(1.215,1) rotate(-45)" text-anchor="middle" dominant-baseline="central" font-size="32" style="fill:#333">3600</text>
<text transform="translate(1227,584) scale(1.215,1) rotate(-45)" text-anchor="middle" dominant-baseline="central" font-size="32" style="fill:#333">1635</text>
<text transform="translate(1471.5,132.5) scale(1.215,1) rotate(-45)" text-anchor="middle" dominant-baseline="central" font-size="32" style="fill:#333">1100</text>
<text transform="translate(1583.5,130) scale(1.215,1) rotate(-45)" text-anchor="middle" dominant-baseline="central" font-size="32" style="fill:#333">800</text>
<text transform="translate(1705.5,130) scale(1.215,1) rotate(-45)" text-anchor="middle" dominant-baseline="central" font-size="32" style="fill:#333">470</text>
<text transform="translate(1538,241.5) scale(1.215,1) rotate(-45)" text-anchor="middle" dominant-baseline="central" font-size="32" style="fill:#333">880</text>
<text transform="translate(1667.6,527) scale(1.215,1) rotate(-45)" text-anchor="middle" dominant-baseline="central" font-size="32" style="fill:#333">610</text>
<text transform="translate(1113.5,350.5) scale(1.27,1)" font-size="26" font-weight="bold" stroke="#111" stroke-width="0.5">(</text>
<text transform="translate(1125.5,350.0) scale(1.27,1)" font-size="25" font-weight="bold" stroke="#111" stroke-width="0.5">C</text>
<text transform="translate(1149.0,350.0) scale(1.22,1)" font-size="25" font-weight="bold" stroke="#111" stroke-width="0.5">O</text>
<text transform="translate(1177.0,358.5) scale(1.0,1)" font-size="17" font-weight="bold" stroke="#111" stroke-width="0.5">3</text>
<text transform="translate(1188.0,350.5) scale(1.27,1)" font-size="26" font-weight="bold" stroke="#111" stroke-width="0.5">)</text>
<text transform="translate(1202.0,338.0) scale(1.27,1)" font-size="16.5" font-weight="bold" stroke="#111" stroke-width="0.5">2</text>
<text transform="translate(1214.5,338.0) scale(1.27,1)" font-size="16.5" font-weight="bold" stroke="#111" stroke-width="0.5">-</text>
<text transform="translate(1115.5,425.2) scale(1.27,1)" font-size="26" font-weight="bold" stroke="#111" stroke-width="0.5">(</text>
<text transform="translate(1127.5,424.7) scale(1.27,1)" font-size="25" font-weight="bold" stroke="#111" stroke-width="0.5">C</text>
<text transform="translate(1151.0,424.7) scale(1.22,1)" font-size="25" font-weight="bold" stroke="#111" stroke-width="0.5">O</text>
<text transform="translate(1179.0,433.2) scale(1.0,1)" font-size="17" font-weight="bold" stroke="#111" stroke-width="0.5">3</text>
<text transform="translate(1190.0,425.2) scale(1.27,1)" font-size="26" font-weight="bold" stroke="#111" stroke-width="0.5">)</text>
<text transform="translate(1204.0,412.7) scale(1.27,1)" font-size="16.5" font-weight="bold" stroke="#111" stroke-width="0.5">2</text>
<text transform="translate(1216.5,412.7) scale(1.27,1)" font-size="16.5" font-weight="bold" stroke="#111" stroke-width="0.5">-</text>
<line x1="1196" y1="344.5" x2="1215" y2="352" stroke="#111" stroke-width="1.8"/>
<polygon points="1253,367.5 1219.2,345 1210.5,359" fill="#111"/>
<line x1="1200.5" y1="419" x2="1219" y2="427" stroke="#111" stroke-width="1.8"/>
<polygon points="1256.5,441.5 1223,419.8 1214,434.4" fill="#111"/>
</svg></body></html>
